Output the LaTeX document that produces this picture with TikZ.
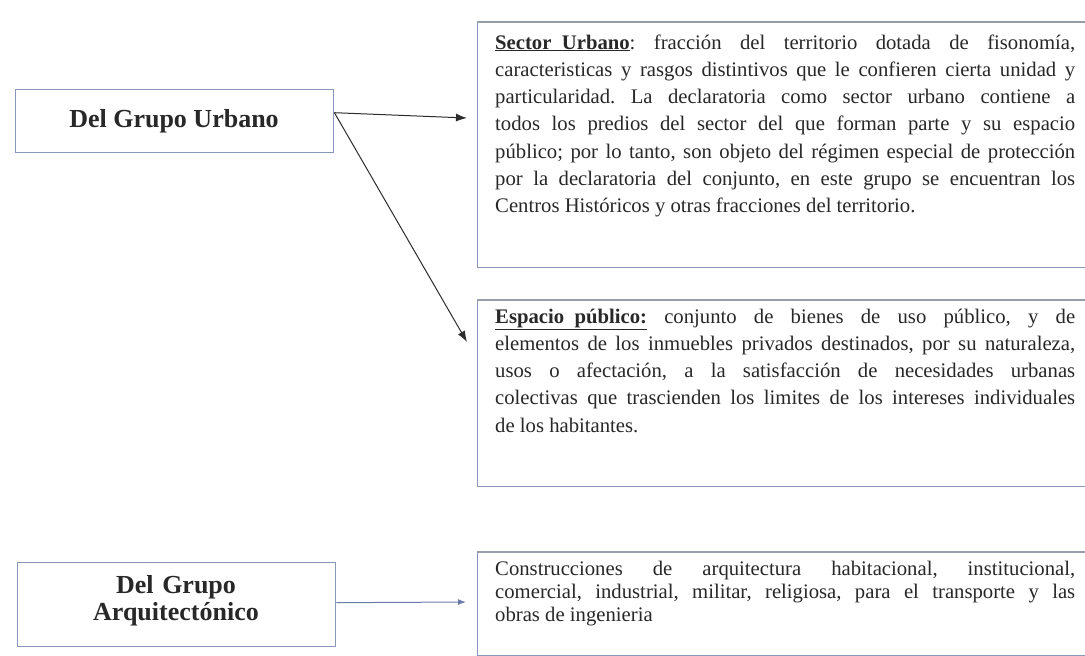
\documentclass[tikz,border=0pt]{standalone}
\usepackage{fontspec}
\setmainfont{Liberation Serif}
\usetikzlibrary{arrows.meta,calc}
\definecolor{boxline}{RGB}{135,150,185}
\definecolor{boxtop}{RGB}{150,158,172}
\definecolor{txt}{RGB}{40,40,40}
\definecolor{arr}{RGB}{45,45,45}
\definecolor{arrblue}{RGB}{105,125,170}
\frenchspacing
\newcommand\jl[1]{{\spaceskip=0pt\xspaceskip=0pt\hbox to 580pt{#1}}\par}
\begin{document}
\begin{tikzpicture}[x=1pt,y=-1pt,
  box/.style={draw=boxline, line width=1.4pt, fill=white, rectangle, inner sep=0pt, anchor=north west},
  lab/.style={font=\fontsize{26}{27}\selectfont\bfseries, text=txt, inner sep=0pt},
  body/.style={font=\fontsize{20.7}{27.3}\selectfont\frenchspacing, text=txt, text width=580pt, align=justify, inner sep=0pt, anchor=base west},
  conn/.style={draw=arr, line width=1pt, -{Latex[length=11pt,width=8pt]}},
  connb/.style={draw=arrblue, line width=1pt, -{Latex[length=8pt,width=6pt]}},
]
\useasboundingbox (0,0) rectangle (1085,656);
\clip (0,0) rectangle (1085,656);
\fill[white] (0,0) rectangle (1085,656);

% left boxes
\node[box, minimum width=318pt, minimum height=63pt] (gu) at (15,89) {};
\node[lab, anchor=base] (gut) at (174,127) {Del Grupo Urbano};
\node[box, minimum width=318pt, minimum height=84pt] (ga) at (17,562) {};
\node[lab, text width=318pt, align=center, anchor=base] (gat) at (176,593) {Del Grupo\\Arquitectónico};

% right boxes
\node[box, minimum width=620pt, minimum height=245pt] (su) at (477,22) {};
\draw[boxtop, line width=1.6pt] (su.north west) -- (su.north east);
\node[body] (sut) at (495,49) {%
\jl{\underline{\textbf{Sector\ \ Urbano}}: fracción del territorio dotada de fisonomía,}%
\jl{caracteristicas y rasgos distintivos que le confieren cierta unidad y}%
\jl{particularidad. La declaratoria como sector urbano contiene a}%
\jl{todos los predios del sector del que forman parte y su espacio}%
\jl{público; por lo tanto, son objeto del régimen especial de protección}%
\jl{por la declaratoria del conjunto, en este grupo se encuentran los}%
Centros Históricos y otras fracciones del territorio.};

\node[box, minimum width=620pt, minimum height=186pt] (ep) at (477,300) {};
\draw[boxtop, line width=1.6pt] (ep.north west) -- (ep.north east);
\node[body] (ept) at (495,323) {%
\jl{\underline{\textbf{Espacio\ \ público:}} conjunto de bienes de uso público, y de}%
\jl{elementos de los inmuebles privados destinados, por su naturaleza,}%
\jl{usos o afectación, a la satisfacción de necesidades urbanas}%
\jl{colectivas que trascienden los limites de los intereses individuales}%
de los habitantes.};

\node[box, minimum width=620pt, minimum height=103pt] (ca) at (477,552) {};
\draw[boxtop, line width=1.6pt] (ca.north west) -- (ca.north east);
\node[body, font=\fontsize{20.7}{23}\selectfont\frenchspacing] (cat) at (495,575) {%
\jl{Construcciones de arquitectura habitacional, institucional,}%
\jl{comercial, industrial, militar, religiosa, para el transporte y las}%
obras de ingenieria};

% connectors
\coordinate (gs) at ([yshift=8.5pt]gu.east);
\coordinate (t1) at (467,118);
\coordinate (t2) at (467,342);
\coordinate (gae) at ([yshift=2pt]ga.east);
\coordinate (t3) at (466,602);
\draw[conn] (gs) -- (t1);
\draw[conn] (gs) -- (t2);
\draw[connb] (gae) -- (t3);
\end{tikzpicture}
\end{document}
